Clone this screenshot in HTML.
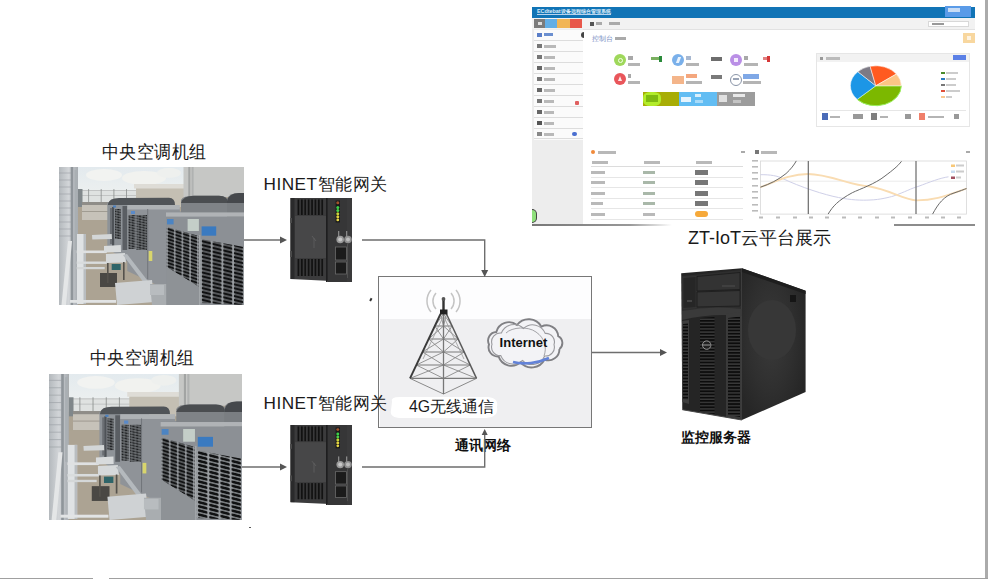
<!DOCTYPE html>
<html><head><meta charset="utf-8">
<style>
html,body{margin:0;padding:0;}
body{width:988px;height:579px;position:relative;overflow:hidden;background:#fff;font-family:"Liberation Sans",sans-serif;color:#222;}
.a{position:absolute;}
.lbl{position:absolute;font-size:17.2px;letter-spacing:0.5px;line-height:1;white-space:nowrap;color:#1a1a1a;}
.bold{position:absolute;font-family:"Liberation Serif",serif;font-weight:bold;font-size:14px;line-height:1;white-space:nowrap;color:#111;}
</style></head>
<body>
<svg width="0" height="0" style="position:absolute">
<defs>
  <pattern id="ventA" width="10.7" height="3.9" patternUnits="userSpaceOnUse" patternTransform="translate(142 72) skewY(14)">
    <rect width="10.7" height="3.9" fill="#9a9ea2"/>
    <rect x="0.8" y="0.5" width="9.1" height="2.9" rx="1.2" fill="#101112"/>
  </pattern>
  <pattern id="ventL" width="7.7" height="3.4" patternUnits="userSpaceOnUse" patternTransform="translate(108 60) skewY(18)">
    <rect width="7.7" height="3.4" fill="#979b9f"/>
    <rect x="0.6" y="0.45" width="6.5" height="2.5" rx="1" fill="#121314"/>
  </pattern>
  <pattern id="ventB" width="3.6" height="2.6" patternUnits="userSpaceOnUse" patternTransform="skewY(12)">
    <rect width="3.6" height="2.6" fill="#8a8e92"/>
    <rect x="0.3" y="0.4" width="3" height="1.7" fill="#1a1c1e"/>
  </pattern>
  <linearGradient id="sky" x1="0" y1="0" x2="0" y2="1">
    <stop offset="0" stop-color="#e3eaee"/><stop offset="1" stop-color="#f0f2f0"/>
  </linearGradient>
  <linearGradient id="tank" x1="0" y1="0" x2="1" y2="0">
    <stop offset="0" stop-color="#b4b9bd"/><stop offset="0.5" stop-color="#d2d5d8"/><stop offset="1" stop-color="#a6abb0"/>
  </linearGradient>
  <linearGradient id="unitTop" x1="0" y1="0" x2="0" y2="1">
    <stop offset="0" stop-color="#7c8085"/><stop offset="1" stop-color="#9a9ea2"/>
  </linearGradient>
  <symbol id="photo" viewBox="0 0 185 138" preserveAspectRatio="none">
    <rect x="0" y="0" width="185" height="138" fill="#aca393"/>
    <!-- sky -->
    <rect x="19" y="0" width="106" height="36" fill="url(#sky)"/>
    <ellipse cx="45" cy="8" rx="18" ry="6" fill="#f2f3f1"/>
    <ellipse cx="85" cy="11" rx="22" ry="7" fill="#f1f2ef"/>
    <ellipse cx="110" cy="6" rx="12" ry="5" fill="#eef0ee"/>
    <!-- fence -->
    <rect x="19" y="23" width="60" height="12" fill="#dfe2e1"/>
    <path d="M19 23.5H78M19 28.5H78" stroke="#a4a7a6" stroke-width="0.5"/>
    <path d="M29.6 22V35M42.2 22V35M54.9 22V35M67.5 22V35" stroke="#8c8f8e" stroke-width="0.8"/>
    <!-- narrow dark building -->
    <rect x="19" y="22" width="4.5" height="18" fill="#80878a"/>
    <!-- small building -->
    <rect x="77" y="20" width="48" height="20" fill="#c4bfb3"/>
    <rect x="75" y="17" width="50" height="4.5" fill="#dedcd6"/>
    <!-- tall building -->
    <rect x="124.5" y="0" width="60.5" height="30" fill="#c6c7c5"/>
    <rect x="129.3" y="0" width="2" height="30" fill="#a2a4a3"/>
    <rect x="132.6" y="0" width="2" height="30" fill="#b0b2b1"/>
    <!-- far wall -->
    <rect x="23" y="35" width="28" height="18" fill="#c6c2b9"/>
    <rect x="23" y="35" width="28" height="3" fill="#8f8d88"/>
    <rect x="23" y="44" width="28" height="1" fill="#a09c92"/>
    <!-- floor -->
    <rect x="19" y="53" width="42" height="85" fill="#aca393"/>
    <rect x="41" y="106" width="17" height="14" fill="#4a4844"/>
    <rect x="16" y="88" width="6" height="45" fill="#6a5448"/>
    <!-- far units -->
    <polygon points="48.3,35.6 96,34 96,80 70,96 48.3,81" fill="#8e9398"/>
    <path d="M49 37Q50 31 60 31L110 30.8Q116 31 116 38L49 38Z" fill="#505458"/>
    <rect x="51" y="41" width="2" height="36" fill="#6a6e73"/>
    <rect x="53" y="40" width="2.2" height="40" fill="#4e5257"/>
    <rect x="56" y="42" width="6" height="30" fill="url(#ventB)"/>
    <rect x="63.5" y="39" width="4.8" height="44" fill="#5a5e63"/>
    <rect x="54" y="38.5" width="3" height="2" fill="#4a80c0"/>
    <!-- middle unit -->
    <polygon points="68.3,41 120.8,41 120.8,116 98,118 68.3,104" fill="#8f9398"/>
    <rect x="68.3" y="38" width="52.5" height="4.5" fill="#aeb2b5"/>
    <rect x="69.5" y="48" width="7" height="34" fill="url(#ventB)"/>
    <rect x="77.5" y="48" width="10.5" height="35" fill="url(#ventB)"/>
    <rect x="88.2" y="42" width="1" height="70" fill="#72767b"/>
    <rect x="72" y="44" width="4" height="3" fill="#5a8ac8"/>
    <rect x="89.7" y="84" width="3.6" height="10" fill="#d8d56c"/>
    <!-- left tank -->
    <rect x="0" y="0" width="19" height="138" fill="url(#tank)"/>
    <path d="M0 6H12M0 13H12M0 20H12M0 27H12M0 34H12M0 41H12M0 48H12M0 55H12M0 62H12M0 69H12" stroke="#9ba0a4" stroke-width="0.6"/>
    <rect x="11.7" y="0" width="2.5" height="138" fill="#8f959a"/>
    <rect x="15.5" y="3" width="2.5" height="80" fill="#a9afb3"/>
    <!-- pipes -->
    <polygon points="9,74 13,74 7,138 2.5,138" fill="#e4e6e7"/>
    <rect x="18" y="67" width="9" height="70" fill="#dfe2e4"/><rect x="24.5" y="67" width="2.5" height="70" fill="#b9bdc0"/>
    <rect x="17.7" y="83.5" width="30" height="2.6" fill="#dfe1e2"/>
    <rect x="17.7" y="94.5" width="30" height="2.4" fill="#d9dcdd"/>
    <rect x="17.7" y="100" width="28" height="2.2" fill="#d4d7d8"/>
    <rect x="11" y="133" width="46" height="2.8" fill="#e2e4e5"/>
    <!-- platforms -->
    <polygon points="33,68 52.7,67 53,72 33.3,72.5" fill="#d3d6d7"/>
    <polygon points="45,79 61.8,78 62,85 45,85.5" fill="#d8dbdc"/>
    <polygon points="46.9,87 66,86 67,95.4 47,96" fill="#d6d9da"/>
    <rect x="48" y="96" width="1.6" height="20" fill="#55524c"/>
    <rect x="64" y="95" width="1.6" height="18" fill="#55524c"/>
    <rect x="52.7" y="97" width="9" height="6" fill="#2e6468"/>
    <polygon points="64,88 68,87 95,122 91,124" fill="#b4b9bd"/>
    <polygon points="56,116 93,113 95.4,135 58,138" fill="#cfd2d4"/>
    <polygon points="91,117 111,117 111,138 93,138" fill="#a9adb0"/>
    <!-- big unit -->
    <polygon points="107,45 185,42 185,138 107.5,138" fill="#8c9095"/>
    <path d="M122 33Q124 28.8 135 28.8L160 28.8Q169 29 169 34L169 46L122 46Z" fill="#7f8387"/>
    <path d="M122 36Q124 28.8 135 28.8L160 28.8Q169 29 169 36Z" fill="#4a4d50"/>
    <path d="M168 32Q170 26 180 26L185 26L185 50L168 50Z" fill="#7a7e82"/>
    <path d="M168 34Q170 26 180 26L185 26L185 36L168 36Z" fill="#45484c"/>
    <rect x="107" y="45.4" width="78" height="4.2" fill="#b0b3b6"/>
    <rect x="108" y="52" width="6.6" height="5.4" fill="#4c84c2"/>
    <rect x="128.6" y="52" width="11.3" height="12" fill="#c4cec8"/>
    <rect x="142.6" y="59.4" width="14.6" height="9.3" fill="#3a7ac0"/>
    <polygon points="107.5,60 140,69 140,120 107.5,100" fill="url(#ventL)"/>
    <polygon points="141.2,72 185,80 185,138 141.2,136" fill="url(#ventA)"/>
    <rect x="139.8" y="68" width="1.6" height="70" fill="#a3a7aa"/>
    <polygon points="107.5,100 140,120 140,138 107.5,138" fill="#8e9296"/>
    <rect x="91" y="118" width="14" height="10" fill="#b8bcbf"/>
  </symbol>
</defs>
</svg>
<svg width="0" height="0" style="position:absolute">
<defs>
  <pattern id="gvent" width="3.4" height="20" patternUnits="userSpaceOnUse">
    <rect width="3.4" height="20" fill="#3a3a3b"/>
    <rect x="0.7" y="0" width="1.8" height="20" fill="#111"/>
  </pattern>
  <symbol id="gw" viewBox="0 0 62 84" preserveAspectRatio="none">
    <polygon points="0.5,0 62,0 62,84 0.5,81" fill="#3b3b3c"/>
    <rect x="0.5" y="0" width="4" height="81" fill="#2a2a2b"/>
    <rect x="0" y="20" width="2" height="5" fill="#4a4a4a"/>
    <rect x="0" y="53" width="2" height="6" fill="#4a4a4a"/>
    <rect x="5" y="18" width="31" height="42" fill="#474748"/>
    <rect x="7" y="1.5" width="27" height="15.5" fill="url(#gvent)"/>
    <rect x="7" y="61" width="27" height="17" fill="url(#gvent)"/>
    <rect x="36" y="0" width="1.8" height="84" fill="#1e1e1f"/>
    <rect x="37.8" y="0" width="24.2" height="84" fill="#363637"/>
    <rect x="57" y="0" width="5" height="84" fill="#3a3a3b"/>
    <rect x="45.6" y="2.5" width="4.4" height="22" fill="#1a1a1a"/>
    <circle cx="47.8" cy="4.8" r="1.5" fill="#a0522d"/>
    <circle cx="47.8" cy="9.4" r="1.5" fill="#3cd24a"/>
    <circle cx="47.8" cy="12.6" r="1.5" fill="#4bd34a"/>
    <circle cx="47.8" cy="15.7" r="1.5" fill="#c8d43a"/>
    <circle cx="47.8" cy="18.8" r="1.5" fill="#e0d040"/>
    <circle cx="47.8" cy="21.9" r="1.4" fill="#e8d848"/>
    <rect x="48" y="33" width="1.3" height="8" fill="#888"/>
    <rect x="56" y="33" width="1.3" height="8" fill="#888"/>
    <circle cx="50.2" cy="41.5" r="3.8" fill="#9a9a9a"/>
    <circle cx="50.2" cy="41.5" r="2" fill="#c8c8c8"/>
    <circle cx="58" cy="41.5" r="3.8" fill="#8e8e8e"/>
    <circle cx="58" cy="41.5" r="2" fill="#bdbdbd"/>
    <rect x="45.5" y="49" width="11" height="13" fill="#1b1b1b" stroke="#6a6a6a" stroke-width="0.8"/>
    <rect x="45.5" y="64" width="11" height="12" fill="#1b1b1b" stroke="#6a6a6a" stroke-width="0.8"/>
    <path d="M57.5 46V80" stroke="#555" stroke-width="0.8"/>
    <path d="M22 38L26 43M24 40V50" stroke="#6a6a6a" stroke-width="0.6"/>
  </symbol>
</defs>
</svg>
<!-- borders -->
<div class="a" style="left:985px;top:0;width:3px;height:579px;background:#ababab"></div>
<div class="a" style="left:0;top:577.6px;width:93px;height:1.4px;background:#a0a0a0"></div>
<div class="a" style="left:109px;top:577.6px;width:879px;height:1.4px;background:#a0a0a0"></div>

<!-- network box -->
<div class="a" style="left:378px;top:276px;width:214px;height:152px;border:1.5px solid #777;box-sizing:border-box;background:#fdfdfe"></div>
<div class="a" style="left:379.5px;top:319px;width:211px;height:107.5px;background:#efeff1"></div>

<!-- photos -->
<svg class="a" style="left:59px;top:167px" width="185" height="138"><use href="#photo"/></svg>
<svg class="a" style="left:49px;top:374px" width="193" height="146"><use href="#photo" width="193" height="146"/></svg>

<!-- gateways -->
<svg class="a" style="left:290px;top:198px" width="62" height="84"><use href="#gw" width="62" height="84"/></svg>
<svg class="a" style="left:290px;top:425px" width="62" height="80"><use href="#gw" width="62" height="80"/></svg>

<!-- server -->
<svg class="a" style="left:675px;top:262px" width="135" height="165" viewBox="675 262 135 165">
  <defs>
    <pattern id="sgr" width="10" height="3.2" patternUnits="userSpaceOnUse">
      <rect width="10" height="3.2" fill="#3a3a3a"/>
      <rect y="0" width="10" height="1.8" fill="#0c0c0c"/>
    </pattern>
    <radialGradient id="sside" cx="0.45" cy="0.45" r="0.6">
      <stop offset="0" stop-color="#3a3a3a"/><stop offset="0.6" stop-color="#2f2f2f"/><stop offset="1" stop-color="#262626"/>
    </radialGradient>
  </defs>
  <!-- side -->
  <polygon points="741.9,268.2 805.6,290.8 805.6,392 741.9,420" fill="url(#sside)"/>
  <polygon points="741.9,268.2 805.6,290.8 805.6,294 741.9,272" fill="#1e1e1e"/>
  <ellipse cx="772" cy="330" rx="24" ry="30" fill="#373737"/>
  <rect x="790" y="295" width="6" height="7" fill="#151515"/>
  <!-- front -->
  <polygon points="681.2,273.2 741.9,268.2 741.9,420 682.3,409.7" fill="#252525"/>
  <!-- drive bay -->
  <polygon points="682,276 741,270 741,310 682,312" fill="#2e2e2e"/>
  <polygon points="683,277.5 696,276.5 696,307.5 683,308.5" fill="#262626" stroke="#3a3a3a" stroke-width="0.6"/>
  <polygon points="697,276.5 740,272.5 740,289.5 697,291" fill="#333" stroke="#1c1c1c" stroke-width="0.8"/>
  <polygon points="697,292 740,290.5 740,306 697,307" fill="#353535" stroke="#1c1c1c" stroke-width="0.8"/>
  <path d="M722 286H735" stroke="#555" stroke-width="0.8"/>
  <rect x="687" y="300" width="5" height="2" fill="#444"/>
  <!-- bezel curve -->
  <path d="M682 311 Q712 305 742 309 L742 316 Q712 313 682 320Z" fill="#3a3a3a"/>
  <!-- grilles -->
  <polygon points="682,321 689,320 689,404 682.3,402" fill="#3e3e3e"/>
  <polygon points="683,324 688,323.5 688,400 683,399" fill="url(#sgr)"/>
  <polygon points="700,318 714.5,317 714.5,414 700,412" fill="url(#sgr)"/>
  <polygon points="726,314 741,312 741,419 726,417" fill="#3a3a3a"/>
  <polygon points="728,318 740,316.5 740,417 728,415" fill="url(#sgr)"/>
  <circle cx="706.7" cy="345.1" r="4.2" fill="#202020" stroke="#9a9a9a" stroke-width="1"/>
  <path d="M703 345H710" stroke="#bbb" stroke-width="0.8"/>
  <path d="M682.3 409.7L741.9 420" stroke="#4a4a4a" stroke-width="1"/>
</svg>


<!-- dashboard -->
<div class="a" id="dash" style="left:532px;top:6px;width:443px;height:220px;background:#fff;overflow:hidden">
  <style>
    #dash div{position:absolute;}
    #dash .t{background:#b9b9b9;height:3px;}
    #dash .tk{background:#8a8a8a;height:4px;}
  </style>
  <!-- header -->
  <div style="left:0;top:0.5px;width:443px;height:11px;background:#1174b6"></div>
  <div style="left:5px;top:2.3px;font-size:5.4px;line-height:6px;font-weight:bold;color:#dcebf8;white-space:nowrap;border-bottom:0.8px solid #b8d4ee">ECdtebat设备远程综合管理系统</div>
  <div style="left:413px;top:0;width:26px;height:11px;background:#5a9be8"></div>
  <div style="left:416px;top:2px;width:12px;height:4px;background:#c8dcf5"></div>
  <!-- toolbar -->
  <div style="left:0;top:11.5px;width:443px;height:11.5px;background:#f2f2f2"></div>
  <div style="left:50px;top:22.5px;width:393px;height:0.8px;background:#e2e2e2"></div>
  <div style="left:2px;top:13px;width:11px;height:9px;background:#7b7b7b"></div>
  <div style="left:13px;top:13px;width:12px;height:9px;background:#62aee6"></div>
  <div style="left:25px;top:13px;width:13px;height:9px;background:#f1b556"></div>
  <div style="left:38px;top:13px;width:11.5px;height:9px;background:#e8574a"></div>
  <div style="left:6px;top:16px;width:4px;height:3px;background:#ddd"></div>
  <div style="left:58px;top:15.5px;width:4px;height:4px;background:#555"></div>
  <div style="left:64px;top:16px;width:6px;height:3px;background:#aaa"></div>
  <div style="left:77px;top:16px;width:11px;height:3px;background:#aaa"></div>
  <div style="left:396px;top:14.5px;width:41px;height:6.5px;background:#fff;box-sizing:border-box;border:0.8px solid #d8d8d8"></div>
  <div style="left:400px;top:16.5px;width:12px;height:2.5px;background:#999"></div>
  <!-- sidebar -->
  <div style="left:0;top:23px;width:51.3px;height:196px;background:#ededed"></div>
  <div style="left:1.5px;top:23.5px;width:49.5px;height:110px;background:#fbfbfb"></div>
  <div style="left:1.5px;top:34.3px;width:49.5px;height:0.8px;background:#ddd"></div>
  <div style="left:1.5px;top:45.2px;width:49.5px;height:0.8px;background:#ddd"></div>
  <div style="left:1.5px;top:56.1px;width:49.5px;height:0.8px;background:#ddd"></div>
  <div style="left:1.5px;top:67px;width:49.5px;height:0.8px;background:#ddd"></div>
  <div style="left:1.5px;top:77.9px;width:49.5px;height:0.8px;background:#ddd"></div>
  <div style="left:1.5px;top:88.8px;width:49.5px;height:0.8px;background:#ddd"></div>
  <div style="left:1.5px;top:99.7px;width:49.5px;height:0.8px;background:#ddd"></div>
  <div style="left:1.5px;top:110.6px;width:49.5px;height:0.8px;background:#ddd"></div>
  <div style="left:1.5px;top:121.5px;width:49.5px;height:0.8px;background:#ddd"></div>
  <div style="left:1.5px;top:132.4px;width:49.5px;height:0.8px;background:#ddd"></div>
  <!-- sidebar icons + text -->
  <div style="left:4.5px;top:26.5px;width:5px;height:4px;background:#5a7ec8"></div>
  <div style="left:12px;top:27px;width:9px;height:3px;background:#6b8fd0"></div>
  <div style="left:4.5px;top:37.5px;width:5px;height:4.5px;background:#777"></div>
  <div class="t" style="left:12px;top:38.5px;width:12px"></div>
  <div style="left:4.5px;top:48.5px;width:5px;height:4.5px;background:#777"></div>
  <div class="t" style="left:12px;top:49.5px;width:11px"></div>
  <div style="left:4.5px;top:59.5px;width:5px;height:4.5px;background:#666"></div>
  <div class="t" style="left:12px;top:60.5px;width:11px"></div>
  <div style="left:4.5px;top:70.5px;width:5px;height:4.5px;background:#777"></div>
  <div class="t" style="left:12px;top:71.5px;width:11px"></div>
  <div style="left:4.5px;top:81.5px;width:5px;height:4.5px;background:#666"></div>
  <div class="t" style="left:12px;top:82.5px;width:11px"></div>
  <div style="left:4.5px;top:92.5px;width:5px;height:4.5px;background:#777"></div>
  <div class="t" style="left:12px;top:93.5px;width:10px"></div>
  <div style="left:4.5px;top:103.5px;width:5px;height:4.5px;background:#666"></div>
  <div class="t" style="left:12px;top:104.5px;width:10px"></div>
  <div style="left:4.5px;top:114.5px;width:5px;height:4.5px;background:#555"></div>
  <div class="t" style="left:12px;top:115.5px;width:10px"></div>
  <div style="left:4.5px;top:125.5px;width:5px;height:4.5px;background:#888"></div>
  <div class="t" style="left:12px;top:126.5px;width:10px"></div>
  <div style="left:43px;top:95px;width:4px;height:4px;background:#e06060;border-radius:1px"></div>
  <div style="left:40px;top:125.5px;width:4.5px;height:4.5px;background:#4a6fd0;border-radius:50%"></div>
  <div style="left:48.5px;top:25.5px;width:3.5px;height:6px;background:#444;border-radius:3px 0 0 3px"></div>
  <div style="left:0;top:202.5px;width:5px;height:14.5px;background:#8fe07c;border-radius:0 8px 8px 0;box-sizing:border-box;border:1px solid #444;border-left:none"></div>
  <!-- content title -->
  <div style="left:59.5px;top:28.5px;font-size:7px;line-height:8px;color:#6f88c0;white-space:nowrap">控制台</div>
  <div style="left:83px;top:31px;width:11px;height:3px;background:#aaa"></div>
  <div style="left:431px;top:26.5px;width:12px;height:10.5px;background:#f8d79f"></div>
  <div style="left:435px;top:30px;width:4px;height:3.5px;background:#fff;opacity:.7"></div>
  <!-- stats -->
  <div style="left:82px;top:48px;width:12px;height:12px;border-radius:50%;background:#9fd85b"></div>
  <div style="left:96px;top:49.5px;width:5px;height:4px;background:#a8a8a8"></div>
  <div style="left:96px;top:57px;width:12px;height:2.5px;background:#b4b4b4"></div>
  <div style="left:119px;top:51px;width:8px;height:3px;background:#7ab060"></div>
  <div style="left:127px;top:49.5px;width:3px;height:6px;background:#2a8a3a"></div>
  <div style="left:140px;top:48px;width:12px;height:12px;border-radius:50%;background:#7ab0ea"></div>
  <div style="left:154px;top:49.5px;width:5px;height:4px;background:#a8b8d0"></div>
  <div style="left:154px;top:57px;width:13px;height:2.5px;background:#b4b4b4"></div>
  <div style="left:179px;top:50.5px;width:11px;height:4.5px;background:#6d6d6d"></div>
  <div style="left:198px;top:48px;width:12px;height:12px;border-radius:50%;background:#ba8fe6"></div>
  <div style="left:212px;top:49.5px;width:4px;height:4px;background:#a8a8a8"></div>
  <div style="left:212px;top:57px;width:14px;height:2.5px;background:#b4b4b4"></div>
  <div style="left:231px;top:51px;width:4px;height:3px;background:#e08080"></div>
  <div style="left:235px;top:49.5px;width:3px;height:6px;background:#d63838"></div>
  <div style="left:82px;top:66.5px;width:12px;height:12px;border-radius:50%;background:#e9565b"></div>
  <div style="left:96px;top:68px;width:3px;height:4px;background:#a8a8a8"></div>
  <div style="left:96px;top:75px;width:12px;height:2.5px;background:#b4b4b4"></div>
  <div style="left:140px;top:70px;width:12px;height:8px;background:#f4b58a"></div>
  <div style="left:154px;top:68px;width:11px;height:4px;background:#f4a77e"></div>
  <div style="left:154px;top:75px;width:16px;height:2.5px;background:#b4b4b4"></div>
  <div style="left:179px;top:68.5px;width:11px;height:4.5px;background:#7a7a7a"></div>
  <div style="left:198px;top:68px;width:12px;height:12px;border-radius:50%;box-sizing:border-box;border:1.5px solid #8a95a8;background:#fff"></div>
  <div style="left:211px;top:68px;width:16px;height:5px;background:#7fa8e6"></div>
  <div style="left:211px;top:75px;width:18px;height:2.5px;background:#b4b4b4"></div>
  <div style="left:85.5px;top:51.5px;width:5px;height:5px;border-radius:50%;box-sizing:border-box;border:1px solid #f4ffe8"></div>
  <div style="left:144.5px;top:51px;width:3px;height:6px;background:#eaf3fd;transform:skewX(-20deg)"></div>
  <div style="left:202px;top:52px;width:4px;height:4px;background:#f3ebfc"></div>
  <div style="left:86px;top:70px;width:4px;height:5px;background:#fde8e8;clip-path:polygon(50% 0,100% 100%,0 100%)"></div>
  <div style="left:201px;top:72px;width:6px;height:2px;background:#9aa4b6"></div>
  <!-- tiles -->
  <div style="left:110.7px;top:85.7px;width:36.3px;height:14.3px;background:#a8ad06"></div>
  <div style="left:111px;top:86px;width:18px;height:13.5px;background:#b2ec2a;border-radius:40%"></div>
  <div style="left:114px;top:89px;width:12px;height:7px;background:#7fba10"></div>
  <div style="left:147px;top:85.7px;width:37.7px;height:14.3px;background:#62bdf3"></div>
  <div style="left:149px;top:91px;width:10px;height:5px;background:#e6f4fd"></div>
  <div style="left:163px;top:88px;width:6px;height:2.5px;background:#d8effc"></div>
  <div style="left:163px;top:94px;width:8px;height:2.5px;background:#a8dbf9"></div>
  <div style="left:184.7px;top:85.7px;width:38.3px;height:14.3px;background:#9c9c9c"></div>
  <div style="left:187px;top:89px;width:8px;height:7px;background:#e0e0e0"></div>
  <div style="left:201px;top:88px;width:12px;height:2.5px;background:#e8e8e8"></div>
  <div style="left:201px;top:94px;width:8px;height:2.5px;background:#c4c4c4"></div>
  <!-- pie panel -->
  <div style="left:283.6px;top:47.4px;width:154px;height:73.6px;box-sizing:border-box;border:1px solid #e6e6e6;background:#fff"></div>
  <div style="left:284.6px;top:48.4px;width:152px;height:8px;background:#f2f2f2"></div>
  <div style="left:288px;top:50.5px;width:3px;height:3px;background:#999"></div>
  <div style="left:294px;top:50.5px;width:14px;height:3px;background:#bbb"></div>
  <div style="left:420.7px;top:48.7px;width:13.3px;height:5.7px;background:#5b80e6"></div>
  <div style="left:288px;top:103.5px;width:146px;height:0.8px;background:#e6e6e6"></div>
  <div style="left:289.5px;top:107px;width:6px;height:6.5px;background:#4a6bb8"></div>
  <div style="left:298px;top:109.5px;width:10px;height:2.5px;background:#b4b4b4"></div>
  <div style="left:321px;top:108px;width:10px;height:4.5px;background:#999"></div>
  <div style="left:338.5px;top:107px;width:6px;height:6.5px;background:#7f7f7f"></div>
  <div style="left:348px;top:109.5px;width:8px;height:2.5px;background:#b4b4b4"></div>
  <div style="left:373px;top:108px;width:6px;height:4.5px;background:#999"></div>
  <div style="left:386.5px;top:107px;width:6px;height:6.5px;background:#f07f6a"></div>
  <div style="left:396px;top:109.5px;width:16px;height:2.5px;background:#b4b4b4"></div>
  <div style="left:422px;top:108px;width:5px;height:4.5px;background:#999"></div>
  <!-- legend -->
  <div style="left:409px;top:65.5px;width:4px;height:2.5px;background:#4a8a2a"></div>
  <div style="left:414px;top:65.5px;width:12px;height:2.5px;background:#ccc"></div>
  <div style="left:409px;top:71.5px;width:4px;height:2.5px;background:#2a7ac0"></div>
  <div style="left:414px;top:71.5px;width:10px;height:2.5px;background:#ccc"></div>
  <div style="left:409px;top:77.5px;width:4px;height:2.5px;background:#777"></div>
  <div style="left:414px;top:77.5px;width:10px;height:2.5px;background:#ccc"></div>
  <div style="left:409px;top:83.5px;width:4px;height:2.5px;background:#e0503a"></div>
  <div style="left:414px;top:83.5px;width:14px;height:2.5px;background:#ccc"></div>
  <div style="left:409px;top:89.5px;width:4px;height:2.5px;background:#f8c890"></div>
  <div style="left:414px;top:89.5px;width:6px;height:2.5px;background:#ccc"></div>
  <!-- table panel -->
  <div style="left:59px;top:144px;width:4px;height:4px;background:#f08a3a;border-radius:50%"></div>
  <div style="left:66px;top:144.5px;width:18px;height:3.5px;background:#b8b8b8"></div>
  <div style="left:209px;top:145px;width:4px;height:2px;background:#aaa"></div>
  <div class="t" style="left:60px;top:154.5px;width:16px"></div>
  <div class="t" style="left:112px;top:154.5px;width:16px"></div>
  <div class="t" style="left:164px;top:154.5px;width:16px"></div>
  <div style="left:59px;top:160px;width:152px;height:1px;background:#dcdcdc"></div>
  <div style="left:59px;top:170.5px;width:152px;height:0.8px;background:#e6e6e6"></div>
  <div style="left:59px;top:181px;width:152px;height:0.8px;background:#e6e6e6"></div>
  <div style="left:59px;top:191.5px;width:152px;height:0.8px;background:#e6e6e6"></div>
  <div style="left:59px;top:202px;width:152px;height:0.8px;background:#e6e6e6"></div>
  <div style="left:59px;top:212.5px;width:152px;height:0.8px;background:#e6e6e6"></div>
  <div class="t" style="left:59px;top:164.5px;width:14px"></div>
  <div class="t" style="left:111px;top:164.5px;width:12px;background:#a9b8a9"></div>
  <div style="left:163px;top:163.5px;width:13px;height:5px;background:#777"></div>
  <div class="t" style="left:59px;top:175px;width:14px"></div>
  <div class="t" style="left:111px;top:175px;width:12px;background:#a9b8a9"></div>
  <div style="left:163px;top:174px;width:13px;height:5px;background:#777"></div>
  <div class="t" style="left:59px;top:185.5px;width:14px"></div>
  <div class="t" style="left:111px;top:185.5px;width:12px;background:#a9b8a9"></div>
  <div style="left:163px;top:184.5px;width:13px;height:5px;background:#777"></div>
  <div class="t" style="left:59px;top:196px;width:12px"></div>
  <div class="t" style="left:111px;top:196px;width:12px;background:#a9b8a9"></div>
  <div style="left:163px;top:195px;width:13px;height:5px;background:#777"></div>
  <div class="t" style="left:59px;top:206.5px;width:14px"></div>
  <div class="t" style="left:111px;top:206.5px;width:12px"></div>
  <div style="left:163px;top:205px;width:13px;height:6px;background:#f6a93a;border-radius:3px"></div>
  <!-- line chart panel -->
  <div style="left:223px;top:144px;width:4px;height:4px;background:#777"></div>
  <div style="left:229px;top:144.5px;width:16px;height:3.5px;background:#b8b8b8"></div>
  <div style="left:434px;top:145px;width:4px;height:2px;background:#aaa"></div>
<svg style="position:absolute;left:0;top:0" width="443" height="220" viewBox="532 6 443 220">
  <g stroke="#fff" stroke-width="0.5">
  <path d="M875.8 85.8L901.3 85.8A25.5 20 0 0 1 857.2 99.4Z" fill="#7cb800" stroke="#9bf060" stroke-width="1"/>
  <path d="M875.8 85.8L857.2 99.4A25.5 20 0 0 1 857.8 71.7Z" fill="#1c96e6"/>
  <path d="M875.8 85.8L857.8 71.7A25.5 20 0 0 1 870.1 66.3Z" fill="#7d7a85"/>
  <path d="M875.8 85.8L870.1 66.3A25.5 20 0 0 1 896.4 74.0Z" fill="#ff5a1f"/>
  <path d="M875.8 85.8L896.4 74.0A25.5 20 0 0 1 901.3 85.8Z" fill="#fcc585"/>
  </g>
  <!-- line chart -->
  <rect x="760.4" y="161" width="206" height="53.1" fill="#fff" stroke="#d8d8d8" stroke-width="0.8"/>
  <path d="M760.4 181.2H966.4" stroke="#ddd" stroke-width="0.6"/>
  <g fill="#bbb">
    <rect x="752" y="160" width="6" height="1.6"/><rect x="752" y="166" width="6" height="1.6"/><rect x="752" y="172" width="6" height="1.6"/>
    <rect x="752" y="178" width="6" height="1.6"/><rect x="752" y="185" width="6" height="1.6"/><rect x="752" y="191" width="6" height="1.6"/>
    <rect x="752" y="197" width="6" height="1.6"/><rect x="752" y="204" width="6" height="1.6"/><rect x="752" y="210" width="6" height="1.6"/>
  </g>
  <g fill="#bbb">
    <rect x="759" y="216.5" width="4" height="2"/><rect x="776" y="216.5" width="4" height="2"/><rect x="793" y="216.5" width="4" height="2"/>
    <rect x="809" y="216.5" width="4" height="2"/><rect x="825" y="216.5" width="4" height="2"/><rect x="842" y="216.5" width="4" height="2"/>
    <rect x="858" y="216.5" width="4" height="2"/><rect x="875" y="216.5" width="4" height="2"/><rect x="891" y="216.5" width="4" height="2"/>
    <rect x="908" y="216.5" width="4" height="2"/><rect x="925" y="216.5" width="4" height="2"/><rect x="941" y="216.5" width="4" height="2"/>
    <rect x="957" y="216.5" width="4" height="2"/>
  </g>
  <path d="M760.4 174.7C770 174.5 778 176 782 178.2C800 187 825 195 838.5 197.5C850 200 862 200.5 870 200C880 199.8 890 197 893 196.2C905 192 912 188 918 186.5C930 182 940 178 948.5 176.8" fill="none" stroke="#cfd0e8" stroke-width="1"/>
  <path d="M760.4 187.2C775 182 790 174 808 174C830 174 850 186 870 186.5C890 190 905 200.3 916.7 200.3C935 200.3 945 196 966.5 188.5" fill="none" stroke="#f9dcb2" stroke-width="1.8"/>
  <path d="M808.3 161V214.1M916 161V214.1" stroke="#6a6a6a" stroke-width="1.2"/>
  <g fill="none" stroke="#6a6a6a" stroke-width="1">
    <path d="M760.4 187.2C770 184 778 180 786 173.6C791 169 794 165 796.3 160.9"/>
    <path d="M828.1 214.1C833 206 838 200.5 852.3 192.7C860 189 875 184 885 176C893 170 898 166 901.5 161.3"/>
    <path d="M932.6 214.1C938 204 944 196 954 193C960 191 964 189.5 966.5 188.5"/>
  </g>
  <rect x="951" y="164.5" width="4" height="2.5" fill="#f8c878"/><rect x="956" y="164.5" width="8" height="2" fill="#ccc"/>
  <rect x="951" y="170.5" width="4" height="2.5" fill="#c8dcf0"/><rect x="956" y="170.5" width="8" height="2" fill="#ccc"/>
  <rect x="951" y="176.5" width="4" height="2.5" fill="#a05060"/><rect x="956" y="176.5" width="5" height="2" fill="#ccc"/>
</svg>
<div style="left:0;top:218px;width:140px;height:1.5px;background:linear-gradient(90deg,#777,#999 70%,rgba(150,150,150,0))"></div>
<div style="left:362px;top:218.3px;width:81px;height:1.6px;background:#8c8c8c"></div>
</div>


<!-- network contents -->
<svg class="a" style="left:378px;top:276px" width="214" height="152" viewBox="378 276 214 152">
  <g fill="none" stroke="#c4c4c4" stroke-width="1.5">
    <path d="M436 293A12 12 0 0 0 436 309"/>
    <path d="M431 290A17 17 0 0 0 431 312"/>
    <path d="M451 293A12 12 0 0 1 451 309"/>
    <path d="M456 290A17 17 0 0 1 456 312"/>
  </g>
  <path d="M440.5 314L443.5 326M443.5 314L434.8 326M446.5 314L443.5 326M443.5 314L452.1 326M434.8 326L443.5 339M443.5 326L428.7 339M452.1 326L443.5 339M443.5 326L458.1 339M428.7 339L443.5 352M443.5 339L422.5 352M458.1 339L443.5 352M443.5 339L464.2 352M422.5 352L443.5 365M443.5 352L416.3 365M464.2 352L443.5 365M443.5 352L470.3 365M416.3 365L443.5 378.4M443.5 365L410.0 378.4M470.3 365L443.5 378.4M443.5 365L476.5 378.4" stroke="#8a8a8a" stroke-width="0.9" fill="none"/>
  <path d="M434.8 326H452.1M428.7 339H458.1M422.5 352H464.2M416.3 365H470.3M410.0 378.4H476.5" stroke="#7a7a7a" stroke-width="1.1" fill="none"/>
  <path d="M443.5 316L423 359M443.5 316L464 359" stroke="#999" stroke-width="0.8" fill="none"/>
  <path d="M410.0 378.4L443.5 394.0L476.5 378.4" stroke="#8a8a8a" stroke-width="1" fill="none"/>
  <path d="M443.5 314.0V394.0" stroke="#777" stroke-width="1.3"/>
  <path d="M440.5 314.0L410.0 378.4" stroke="#3a3a3a" stroke-width="1.9"/>
  <path d="M446.5 314.0L476.5 378.4" stroke="#5a5a5a" stroke-width="1.5"/>
  <rect x="442.3" y="299" width="2.4" height="11" fill="#333"/>
  <circle cx="443.5" cy="299" r="1.9" fill="#555"/>
  <rect x="440" y="309.5" width="7.5" height="5" fill="#222"/>
  <!-- cloud -->
  <path d="M559.4 349.1A10.9 10.9 0 0 1 544.5 359.5A14.5 14.5 0 0 1 520.5 362.4A13.6 13.6 0 0 1 498.6 356.4A9.2 9.2 0 0 1 489.0 344.4A8.6 8.6 0 0 1 496.3 332.0A13.1 13.1 0 0 1 517.0 325.0A14.7 14.7 0 0 1 541.4 326.6A11.6 11.6 0 0 1 558.2 336.1A7.8 7.8 0 0 1 559.4 349.1" fill="#f3f3f6" stroke="#808084" stroke-width="1.9"/>
  <path d="M544.6 356.0A13.5 13.5 0 0 1 522.5 360.5A13.4 13.4 0 0 1 500.8 355.6A8.6 8.6 0 0 1 492.0 344.3A8.8 8.8 0 0 1 501.4 333.0A13.5 13.5 0 0 1 523.5 328.5A13.4 13.4 0 0 1 545.2 333.4A8.6 8.6 0 0 1 554.0 344.7A8.8 8.8 0 0 1 544.6 356.0" fill="none" stroke="#9a9a9e" stroke-width="1.1"/>
  <path d="M506 333C512 327 528 326 536 332C545 338 547 348 544 356" fill="none" stroke="#9a9a9e" stroke-width="0.9"/>
  <path d="M513 362C524 365 538 363 549 358" fill="none" stroke="#6282d8" stroke-width="2.6"/>
  <text x="499.6" y="346.6" font-family="Liberation Sans" font-weight="bold" font-size="13" fill="#111">Internet</text>
  <!-- white blob behind 4G text -->
  <path d="M392 402Q390 397 400 397H488Q499 398 497 407Q499 417 486 418H402Q389 418 391 410Z" fill="#fff"/>
</svg>
<div class="a" style="left:369.5px;top:298px;width:1.5px;height:2.5px;background:#333;transform:rotate(30deg)"></div>
<div class="a" style="left:248.5px;top:526.5px;width:2px;height:1.5px;background:#444;border-radius:1px"></div>
<!-- labels -->
<div class="lbl" style="left:101.5px;top:143px;transform:scaleY(1.06);transform-origin:0 0">中央空调机组</div>
<div class="lbl" style="left:89.5px;top:349.3px;transform:scaleY(1.06);transform-origin:0 0">中央空调机组</div>
<div class="lbl" style="left:263.5px;top:176px">HINET智能网关</div>
<div class="lbl" style="left:263.5px;top:395px">HINET智能网关</div>
<div class="lbl" style="left:688px;top:229px;font-size:18px;letter-spacing:0">ZT-IoT云平台展示</div>
<div class="lbl" style="left:409px;top:398.5px;font-size:15.8px;letter-spacing:0">4G无线通信</div>
<div class="bold" style="left:455px;top:438.5px">通讯网络</div>
<div class="bold" style="left:680.5px;top:430px;font-size:14.3px">监控服务器</div>

<!-- lines -->
<svg class="a" style="left:0;top:0" width="988" height="579">
  <g stroke="#6e6e6e" stroke-width="1.4" fill="none">
    <path d="M244 240H283"/>
    <path d="M362 240H484.7V270"/>
    <path d="M242 467H283"/>
    <path d="M362 467H484.7V435"/>
    <path d="M592 352.5H660"/>
  </g>
  <g fill="#555">
    <path d="M287 240L280 236.5V243.5Z"/>
    <path d="M287 467L280 463.5V470.5Z"/>
    <path d="M484.7 277L481.2 270H488.2Z"/>
    <path d="M484.7 429L481.7 435H487.7Z"/>
    <path d="M667 352.5L660 349V356Z"/>
  </g>
</svg>
</body></html>
